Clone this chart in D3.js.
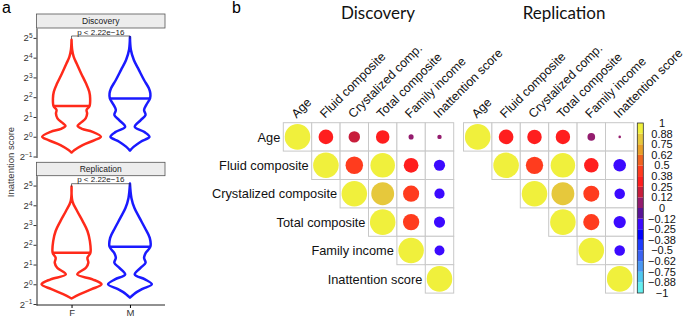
<!DOCTYPE html>
<html lang="en">
<head>
<meta charset="UTF-8">
<title>Inattention score by sex and correlation matrices</title>
<script src="https://d3js.org/d3.v7.min.js"></script>
<style>
  body { margin: 0; background: #fff; }
  text { font-family: "Liberation Sans", Arial, sans-serif; }
  .title { font-family: Lato, "Open Sans", sans-serif; }
</style>
</head>
<body>
<div id="chart"></div>
<script>
// ---------- data ----------
const sexes = ["F", "M"];
const cohorts = ["Discovery", "Replication"];
const yTickExps = [-1, 0, 1, 2, 3, 4, 5];
const yTickSup = ["\u22121", "0", "1", "2", "3", "4", "5"];
const pLabel = "p < 2.22e\u221216";

// violin outlines: log2(score) levels and relative half-width (1 = widest)
const discFLevels  = [4.9, 4.4, 4.05, 3.7, 3.2, 2.7, 2.28, 1.94, 1.55, 1.35, 1.18, 0.93, 0.7, 0.55, 0.4, 0.25, 0, -0.17, -0.42, -0.67, -0.8];
const discFDensity = [0, 0.02, 0.07, 0.17, 0.32, 0.48, 0.59, 0.62, 0.6, 0.5, 0.52, 0.47, 0.3, 0.2, 0.35, 0.7, 0.98, 0.77, 0.37, 0.1, 0];
const discMLevels  = [5.05, 4.4, 3.88, 3.37, 2.87, 2.45, 2.19, 1.94, 1.6, 1.35, 1.1, 0.84, 0.5, 0.25, 0, -0.25, -0.5, -0.7];
const discMDensity = [0, 0.03, 0.13, 0.3, 0.47, 0.63, 0.68, 0.67, 0.54, 0.47, 0.52, 0.36, 0.16, 0.47, 0.65, 0.36, 0.13, 0];
const repFLevels   = [4.95, 4.2, 3.7, 3.2, 2.7, 2.2, 1.6, 1.34, 1.09, 0.84, 0.5, 0.25, 0, -0.25, -0.5, -0.72];
const repFDensity  = [0, 0.03, 0.19, 0.37, 0.53, 0.61, 0.63, 0.53, 0.56, 0.48, 0.19, 0.7, 1, 0.67, 0.28, 0];
const repMLevels   = [5.1, 4.36, 3.86, 3.36, 2.85, 2.35, 1.9, 1.6, 1.34, 1.09, 0.84, 0.5, 0.25, 0, -0.25, -0.5, -0.68];
const repMDensity  = [0, 0.05, 0.15, 0.32, 0.5, 0.66, 0.68, 0.53, 0.47, 0.52, 0.36, 0.16, 0.5, 0.73, 0.4, 0.13, 0];
const discMedians = [1.55, 1.94];
const repMedians  = [1.6, 1.9];

// correlation matrices (upper triangle, row by row, starting at the diagonal)
const rowLabels = ["Age", "Fluid composite", "Crystalized composite", "Total composite", "Family income", "Inattention score"];
const colLabels = ["Age", "Fluid composite", "Crystalized comp.", "Total composite", "Family income", "Inattention score"];
const discoveryR = [
  [1, 0.33, 0.2, 0.28, 0.04, 0.03],
  [1, 0.47, 0.92, 0.33, -0.19],
  [1, 0.8, 0.4, -0.16],
  [1, 0.41, -0.19],
  [1, -0.15],
  [1]
];
const replicationR = [
  [1, 0.33, 0.32, 0.32, 0.09, 0.01],
  [1, 0.46, 0.92, 0.32, -0.24],
  [1, 0.8, 0.39, -0.17],
  [1, 0.4, -0.23],
  [1, -0.17],
  [1]
];
const legendLabels = ["1", "0.88", "0.75", "0.62", "0.5", "0.38", "0.25", "0.12", "0",
  "\u22120.12", "\u22120.25", "\u22120.38", "\u22120.5", "\u22120.62", "\u22120.75", "\u22120.88", "\u22121"];
const binColors = ["#64f0f0", "#50c8f0", "#4a98f4", "#3c64f4", "#1e3cff", "#0000ff", "#3c0aff", "#5a1496",
  "#941c6e", "#c81e3c", "#ff1e1e", "#ff3c1e", "#f06420", "#e8a028", "#e6c83c", "#f0f03c"];

// ---------- svg ----------
const W = 685, H = 317;
const svg = d3.select("#chart").append("svg").attr("width", W).attr("height", H);

svg.append("text").attr("x", 2).attr("y", 13).attr("font-size", 16).text("a");
svg.append("text").attr("x", 232).attr("y", 13).attr("font-size", 16).text("b");

// ---------- panel a: violins ----------
const pa = { left: 36.5, right: 165 };
const x = d3.scalePoint().domain(sexes).range([pa.left, pa.right]).padding(0.6);
const halfW = d3.scaleLinear().domain([0, 1]).range([0, 30]);
const sexColor = d3.scaleOrdinal().domain(sexes).range(["#ff2a1a", "#1a1aff"]);

const facets = [
  { name: cohorts[0], strip: 14, top: 28, bottom: 157.5,
    violins: [[discFLevels, discFDensity], [discMLevels, discMDensity]], medians: discMedians },
  { name: cohorts[1], strip: 162.3, top: 175.7, bottom: 305,
    violins: [[repFLevels, repFDensity], [repMLevels, repMDensity]], medians: repMedians }
];

facets.forEach((f, fi) => {
  const g = svg.append("g");
  const y = d3.scaleLog().base(2).domain([Math.pow(2, -1.05), Math.pow(2, 5.5)]).range([f.bottom, f.top]);

  // strip
  g.append("rect").attr("x", pa.left).attr("y", f.strip).attr("width", pa.right - pa.left)
    .attr("height", f.top - f.strip).attr("fill", "#ededed").attr("stroke", "#555").attr("stroke-width", 0.8);
  g.append("text").attr("x", (pa.left + pa.right) / 2).attr("y", (f.strip + f.top) / 2 + 3)
    .attr("text-anchor", "middle").attr("font-size", 8.5).attr("fill", "#222").text(f.name);

  // y axis
  const ya = g.append("g").attr("transform", `translate(${pa.left},0)`)
    .call(d3.axisLeft(y).tickValues(yTickExps.map(k => Math.pow(2, k))).tickSize(3).tickSizeOuter(0).tickFormat(() => "2"));
  ya.select(".domain").attr("stroke", "#222");
  ya.selectAll(".tick line").attr("stroke", "#333");
  ya.selectAll(".tick text").attr("font-size", 9.5).attr("fill", "#333").attr("x", -4)
    .each(function(d, i) {
      d3.select(this).append("tspan").attr("dy", "-0.5em").attr("font-size", 6.5).text(yTickSup[i]);
    });

  // violins
  f.violins.forEach(([levels, dens], si) => {
    const cx = x(sexes[si]);
    const pts = levels.map((k, i) => [k, dens[i]]);
    const area = d3.area()
      .y(d => y(Math.pow(2, d[0])))
      .x0(d => cx - halfW(d[1]))
      .x1(d => cx + halfW(d[1]))
      .curve(d3.curveCatmullRom.alpha(0.5));
    g.append("path").datum(pts).attr("d", area)
      .attr("fill", "none").attr("stroke", sexColor(sexes[si])).attr("stroke-width", 2.5)
      .attr("stroke-linejoin", "round");
    // median line
    const wAt = d3.scaleLinear().domain(levels).range(dens);
    const m = f.medians[si];
    const w = halfW(wAt(m));
    g.append("line").attr("x1", cx - w).attr("x2", cx + w)
      .attr("y1", y(Math.pow(2, m))).attr("y2", y(Math.pow(2, m)))
      .attr("stroke", sexColor(sexes[si])).attr("stroke-width", 2.5);
  });

  // p-value bracket
  const by = f.top + 8;
  const xF = x(sexes[0]), xM = x(sexes[1]);
  g.append("path").attr("d", `M${xF},${by + 3}V${by}H${xM}V${by + 3}`)
    .attr("fill", "none").attr("stroke", "#333").attr("stroke-width", 0.7);
  g.append("text").attr("x", (xF + xM) / 2).attr("y", by - 1.5).attr("text-anchor", "middle")
    .attr("font-size", 8).attr("fill", "#222").text(pLabel);

  // x axis only on last facet
  if (fi === facets.length - 1) {
    const xa = g.append("g").attr("transform", `translate(0,${f.bottom})`)
      .call(d3.axisBottom(x).tickSize(3).tickSizeOuter(0));
    xa.select(".domain").attr("stroke", "#222").attr("d", `M${pa.left},0H${pa.right}`);
    xa.selectAll(".tick text").attr("font-size", 9.5).attr("fill", "#333").attr("y", 4.5);
  }
});

svg.append("text").attr("transform", "translate(14,162) rotate(-90)")
  .attr("text-anchor", "middle").attr("font-size", 9.5).attr("fill", "#333").text("Inattention score");

// ---------- panel b: correlation matrices ----------
const color = d3.scaleQuantize().domain([-1, 1]).range(binColors);
const cell = 28.4;
const rScale = d3.scaleSqrt().domain([0, 1]).range([0, 0.45 * cell]);
const n = rowLabels.length;

function drawMatrix(x0, y0, R, title, titleX, withRows) {
  const g = svg.append("g");
  const bx = d3.scaleBand().domain(d3.range(n)).range([x0, x0 + n * cell]);
  const by = d3.scaleBand().domain(d3.range(n)).range([y0, y0 + n * cell]);

  g.append("text").attr("class", "title").attr("x", titleX).attr("y", 19)
    .attr("text-anchor", "middle").attr("font-size", 17).attr("fill", "#111").text(title);

  const cells = [];
  R.forEach((row, i) => row.forEach((v, k) => cells.push({ i: i, j: i + k, v: v })));

  g.selectAll("rect.cell").data(cells).enter().append("rect")
    .attr("class", "cell")
    .attr("x", d => bx(d.j)).attr("y", d => by(d.i))
    .attr("width", cell).attr("height", cell)
    .attr("fill", "#fff").attr("stroke", "#c8c8c8").attr("stroke-width", 1);

  g.selectAll("circle").data(cells).enter().append("circle")
    .attr("cx", d => bx(d.j) + cell / 2).attr("cy", d => by(d.i) + cell / 2)
    .attr("r", d => rScale(Math.abs(d.v)))
    .attr("fill", d => color(Math.min(d.v, 0.9999)));

  g.selectAll("text.col").data(colLabels).enter().append("text")
    .attr("class", "col")
    .attr("transform", (d, j) => `translate(${bx(j) + cell / 2 - 1},${y0 - 4}) rotate(-45)`)
    .attr("font-size", 12.4).attr("fill", "#111").text(d => d);

  if (withRows) {
    g.selectAll("text.row").data(rowLabels).enter().append("text")
      .attr("class", "row")
      .attr("x", (d, i) => bx(i) - 3).attr("y", (d, i) => by(i) + cell / 2)
      .attr("dy", "0.36em").attr("text-anchor", "end")
      .attr("font-size", 12.8).attr("fill", "#111").text(d => d);
  }
}

drawMatrix(283.3, 122.7, discoveryR, cohorts[0], 378, true);
drawMatrix(463.5, 122.7, replicationR, cohorts[1], 564, false);

// colour legend
const leg = svg.append("g");
const ly = d3.scaleLinear().domain([1, -1]).range([123, 293]);
const lx0 = 637.3, lw = 6;
leg.selectAll("rect.bin").data(binColors).enter().append("rect")
  .attr("class", "bin")
  .attr("x", lx0).attr("width", lw)
  .attr("y", (c, i) => ly(-1 + (i + 1) * 2 / binColors.length))
  .attr("height", (c, i) => ly(-1 + i * 2 / binColors.length) - ly(-1 + (i + 1) * 2 / binColors.length))
  .attr("fill", c => c);
leg.append("rect").attr("x", lx0).attr("y", ly(1)).attr("width", lw).attr("height", ly(-1) - ly(1))
  .attr("fill", "none").attr("stroke", "#333").attr("stroke-width", 0.8);
leg.selectAll("text").data(legendLabels).enter().append("text")
  .attr("x", 662).attr("y", (d, i) => ly(1 - i * 2 / (legendLabels.length - 1)))
  .attr("dy", "0.36em").attr("text-anchor", "middle")
  .attr("font-size", 11).attr("fill", "#111").text(d => d);
</script>
</body>
</html>
